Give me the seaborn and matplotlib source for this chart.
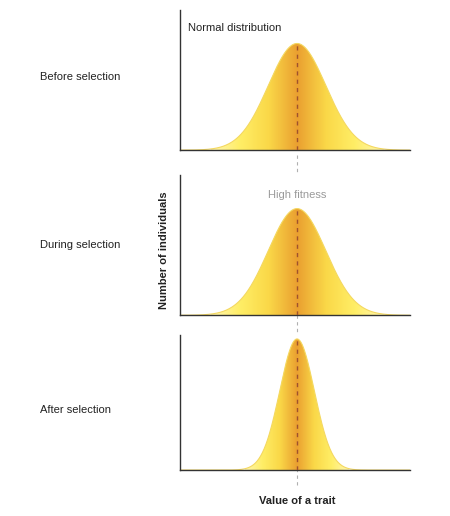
import numpy as np
import matplotlib.pyplot as plt
import seaborn as sns
from matplotlib.colors import LinearSegmentedColormap
from matplotlib.lines import Line2D

sns.set_style("white")
plt.rcParams['font.family'] = ['Liberation Sans', 'DejaVu Sans']

# =========================
# DATA
# =========================
stages = ["Before selection", "During selection", "After selection"]
means = [5.09, 5.09, 5.09]
sds = [1.25, 1.25, 0.75]
peaks = [0.76, 0.76, 0.97]
x_lim = [0, 10]

cmap = LinearSegmentedColormap.from_list(
    "trait", ["#fff6b0", "#ffee66", "#fad848", "#eaa030", "#fad848", "#ffee66", "#fff6b0"])

fig = plt.figure(figsize=(4.5, 5.16), dpi=100)
rects = [[0.4, 0.709, 0.511, 0.272],
         [0.4, 0.389, 0.511, 0.272],
         [0.4, 0.089, 0.511, 0.262]]
label_y = [0.85, 0.525, 0.205]

x = np.linspace(x_lim[0], x_lim[1], 400)
for i, stage in enumerate(stages):
    ax = fig.add_axes(rects[i])
    y = peaks[i] * np.exp(-0.5 * ((x - means[i]) / sds[i]) ** 2)
    sns.lineplot(x=x, y=y, ax=ax, color="#f4d860", linewidth=0.8)
    poly = ax.fill_between(x, 0, y, color="none")
    grad = np.linspace(0, 1, 256)[None, :]
    lo, hi = means[i] - 3 * sds[i], means[i] + 3 * sds[i]
    im = ax.imshow(grad, extent=[lo, hi, 0, 1], aspect="auto", cmap=cmap, zorder=1)
    im.set_clip_path(poly.get_paths()[0], transform=ax.transData)
    ax.plot([means[i], means[i]], [0, peaks[i]], ls=(0, (3, 3)), color="#a0522d", lw=1, zorder=3)
    ax.set_xlim(x_lim)
    ax.set_ylim(0, 1)
    ax.set_xticks([])
    ax.set_yticks([])
    sns.despine(ax=ax)
    for s in ["left", "bottom"]:
        ax.spines[s].set_color("#333333")
        ax.spines[s].set_linewidth(1)
    fig.text(0.088, label_y[i], stage, fontsize=8, va="center", color="#222222")

# gray dashed guide between panels
fig.add_artist(Line2D([0.66, 0.66], [0.06, 0.70], ls=(0, (3, 3)), color="#b0b0b0", lw=0.8, zorder=0))

fig.text(0.418, 0.946, "Normal distribution", fontsize=8, va="center", color="#222222")
fig.text(0.66, 0.622, "High fitness", fontsize=8, ha="center", va="center", color="#9a9a9a")
fig.text(0.365, 0.515, "Number of individuals", fontsize=8, fontweight="bold",
         rotation=90, ha="center", va="center", color="#222222")
fig.text(0.66, 0.03, "Value of a trait", fontsize=8, fontweight="bold",
         ha="center", va="center", color="#222222")

fig.savefig("out.png", dpi=100)
